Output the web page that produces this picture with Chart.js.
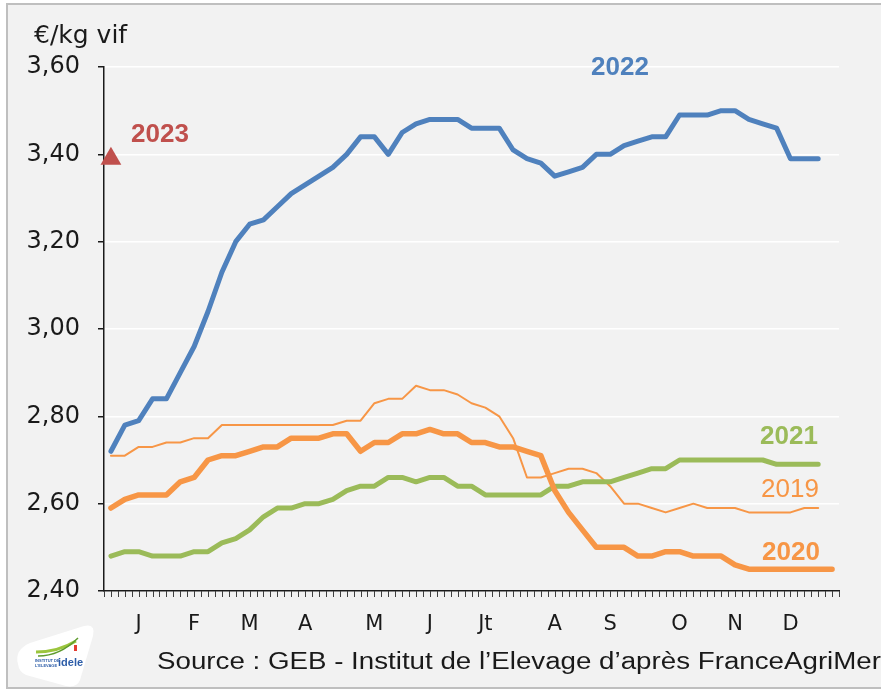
<!DOCTYPE html>
<html lang="fr">
<head>
<meta charset="utf-8">
<title>Prix €/kg vif</title>
<script src="https://cdn.jsdelivr.net/npm/chart.js@4.4.1/dist/chart.umd.min.js"></script>
<style>
  html, body { margin: 0; padding: 0; background: #fff; }
  canvas { display: block; }
</style>
</head>
<body>
<canvas id="chart" width="881" height="691"></canvas>
<script>
// === DONNÉES ===
const nbSemaines = 53;
const moisLabels = ['J', 'F', 'M', 'A', 'M', 'J', 'Jt', 'A', 'S', 'O', 'N', 'D'];
const moisSemaine = [2, 6, 10, 14, 19, 23, 27, 32, 36, 41, 45, 49];
const yTicks = [2.4, 2.6, 2.8, 3.0, 3.2, 3.4, 3.6];

const prix2019 = [2.71, 2.71, 2.73, 2.73, 2.74, 2.74, 2.75, 2.75, 2.78, 2.78,
  2.78, 2.78, 2.78, 2.78, 2.78, 2.78, 2.78, 2.79, 2.79, 2.83,
  2.84, 2.84, 2.87, 2.86, 2.86, 2.85, 2.83, 2.82, 2.80, 2.75,
  2.66, 2.66, 2.67, 2.68, 2.68, 2.67, 2.64, 2.60, 2.60, 2.59,
  2.58, 2.59, 2.60, 2.59, 2.59, 2.59, 2.58, 2.58, 2.58, 2.58,
  2.59, 2.59];
const prix2020 = [2.59, 2.61, 2.62, 2.62, 2.62, 2.65, 2.66, 2.70, 2.71, 2.71,
  2.72, 2.73, 2.73, 2.75, 2.75, 2.75, 2.76, 2.76, 2.72, 2.74,
  2.74, 2.76, 2.76, 2.77, 2.76, 2.76, 2.74, 2.74, 2.73, 2.73,
  2.72, 2.71, 2.63, 2.58, 2.54, 2.50, 2.50, 2.50, 2.48, 2.48,
  2.49, 2.49, 2.48, 2.48, 2.48, 2.46, 2.45, 2.45, 2.45, 2.45,
  2.45, 2.45, 2.45];
const prix2021 = [2.48, 2.49, 2.49, 2.48, 2.48, 2.48, 2.49, 2.49, 2.51, 2.52,
  2.54, 2.57, 2.59, 2.59, 2.60, 2.60, 2.61, 2.63, 2.64, 2.64,
  2.66, 2.66, 2.65, 2.66, 2.66, 2.64, 2.64, 2.62, 2.62, 2.62,
  2.62, 2.62, 2.64, 2.64, 2.65, 2.65, 2.65, 2.66, 2.67, 2.68,
  2.68, 2.70, 2.70, 2.70, 2.70, 2.70, 2.70, 2.70, 2.69, 2.69,
  2.69, 2.69];
const prix2022 = [2.72, 2.78, 2.79, 2.84, 2.84, 2.90, 2.96, 3.04, 3.13, 3.20,
  3.24, 3.25, 3.28, 3.31, 3.33, 3.35, 3.37, 3.40, 3.44, 3.44,
  3.40, 3.45, 3.47, 3.48, 3.48, 3.48, 3.46, 3.46, 3.46, 3.41,
  3.39, 3.38, 3.35, 3.36, 3.37, 3.40, 3.40, 3.42, 3.43, 3.44,
  3.44, 3.49, 3.49, 3.49, 3.50, 3.50, 3.48, 3.47, 3.46, 3.39,
  3.39, 3.39];
const prix2023 = [3.39];

// couleurs
const BLEU = '#4F81BD', VERT = '#9BBB59', ORANGE = '#F79646', ROUGE = '#C0504D';

// labels de l'axe X : une catégorie par semaine, lettre du mois à certaines semaines
const labels = Array(nbSemaines).fill('');
moisSemaine.forEach((s, i) => { labels[s] = moisLabels[i]; });

// === PLUGIN DÉCOR (fond, graduations, étiquettes, source) ===
const decor = {
  id: 'decor',
  beforeDraw(chart) {
    const ctx = chart.ctx;
    ctx.save();
    ctx.fillStyle = '#fff';
    ctx.fillRect(0, 0, chart.width, chart.height);
    ctx.fillStyle = '#F2F2F2';
    ctx.fillRect(7, 4, chart.width, chart.height - 7);
    ctx.strokeStyle = '#BFBFBF';
    ctx.lineWidth = 2;
    ctx.strokeRect(7, 4, chart.width + 20, chart.height - 7);
    ctx.restore();
  },
  afterDraw(chart) {
    const ctx = chart.ctx;
    const x = chart.scales.x;
    const area = chart.chartArea;
    ctx.save();

    // petites graduations de l'axe X (toutes les demi-semaines)
    ctx.strokeStyle = '#404040';
    ctx.lineWidth = 1;
    const pas = (area.right - area.left) / (nbSemaines * 2);
    ctx.beginPath();
    for (let k = 0; k <= nbSemaines * 2; k++) {
      const px = Math.round(area.left + k * pas) + 0.5;
      ctx.moveTo(px, area.bottom);
      ctx.lineTo(px, area.bottom + 6);
    }
    ctx.stroke();

    // unité
    ctx.fillStyle = '#1a1a1a';
    ctx.font = '25px "DejaVu Sans"';
    ctx.textBaseline = 'middle';
    ctx.textAlign = 'left';
    ctx.fillText('€/kg vif', 34, 36);

    // étiquettes des séries
    ctx.textAlign = 'center';
    ctx.font = 'bold 26px "Liberation Sans"';
    ctx.fillStyle = ROUGE; ctx.fillText('2023', 160, 135);
    ctx.fillStyle = BLEU; ctx.fillText('2022', 620, 68);
    ctx.fillStyle = VERT; ctx.fillText('2021', 789, 437);
    ctx.fillStyle = ORANGE; ctx.fillText('2020', 791, 553);
    ctx.font = '26px "Liberation Sans"';
    ctx.fillText('2019', 790, 490);

    // source (texte étiré pour couvrir la largeur)
    const source = 'Source : GEB - Institut de l\u2019Elevage d\u2019apr\u00e8s FranceAgriMer';
    ctx.font = '23px "Liberation Sans"';
    ctx.fillStyle = '#1a1a1a';
    ctx.textAlign = 'left';
    const w = ctx.measureText(source).width;
    ctx.save();
    ctx.translate(157, 663);
    ctx.scale(724 / w, 1);
    ctx.fillText(source, 0, 0);
    ctx.restore();

    // logo simplifié
    ctx.fillStyle = '#fff';
    ctx.beginPath();
    ctx.moveTo(18, 664);
    ctx.quadraticCurveTo(14, 650, 30, 643);
    ctx.lineTo(84, 626);
    ctx.quadraticCurveTo(96, 623, 93, 636);
    ctx.lineTo(80, 680);
    ctx.quadraticCurveTo(77, 688, 66, 686);
    ctx.lineTo(26, 675);
    ctx.quadraticCurveTo(19, 672, 18, 664);
    ctx.fill();
    ctx.strokeStyle = '#9BC53D';
    ctx.lineWidth = 3;
    ctx.beginPath();
    ctx.moveTo(36, 652);
    ctx.quadraticCurveTo(58, 652, 76, 641);
    ctx.stroke();
    ctx.strokeStyle = '#5E9B2E';
    ctx.lineWidth = 1.5;
    ctx.beginPath();
    ctx.moveTo(38, 656);
    ctx.quadraticCurveTo(60, 656, 78, 638);
    ctx.stroke();
    ctx.fillStyle = '#E53B30';
    ctx.fillRect(74, 645, 3, 6);
    ctx.fillStyle = '#2D5DA8';
    ctx.font = 'bold 11px "Liberation Sans"';
    ctx.textAlign = 'left';
    ctx.fillText('idele', 58, 663);
    ctx.font = 'bold 4px "Liberation Sans"';
    ctx.fillText('INSTITUT DE', 35, 661);
    ctx.fillText('L\u2019ELEVAGE', 35, 666);

    ctx.restore();
  }
};

// === GRAPHIQUE ===
const ctx = document.getElementById('chart').getContext('2d');
new Chart(ctx, {
  type: 'line',
  data: {
    labels: labels,
    datasets: [
      {
        label: '2023', data: prix2023, showLine: false,
        pointStyle: 'triangle', pointRadius: 12, pointHoverRadius: 12,
        pointBackgroundColor: ROUGE, pointBorderWidth: 0, borderColor: ROUGE
      },
      { label: '2022', data: prix2022, borderColor: BLEU, borderWidth: 5 },
      { label: '2020', data: prix2020, borderColor: ORANGE, borderWidth: 5.5 },
      { label: '2021', data: prix2021, borderColor: VERT, borderWidth: 5 },
      { label: '2019', data: prix2019, borderColor: ORANGE, borderWidth: 2 }
    ]
  },
  options: {
    responsive: false,
    animation: false,
    layout: { padding: { left: 0, top: 67, right: 42, bottom: 0 } },
    elements: {
      line: { tension: 0, borderJoinStyle: 'round', borderCapStyle: 'round', fill: false },
      point: { radius: 0, hoverRadius: 0 }
    },
    plugins: {
      legend: { display: false },
      tooltip: { enabled: false },
      title: { display: false }
    },
    scales: {
      x: {
        offset: true,
        afterFit: (s) => { s.height = 100; },
        grid: { display: false, drawTicks: false },
        border: { display: true, color: '#1a1a1a', width: 1.5 },
        ticks: {
          autoSkip: false, maxRotation: 0, minRotation: 0, padding: 21,
          color: '#1a1a1a', font: { family: 'DejaVu Sans', size: 21 }
        }
      },
      y: {
        min: 2.4, max: 3.6,
        afterFit: (s) => { s.width = 104; },
        afterBuildTicks: (s) => { s.ticks = yTicks.map(v => ({ value: v })); },
        grid: { color: '#ffffff', lineWidth: 1.5, tickColor: '#1a1a1a', tickLength: 6, drawTicks: true },
        border: { display: true, color: '#1a1a1a', width: 1.5 },
        ticks: {
          padding: 18, color: '#1a1a1a',
          font: { family: 'DejaVu Sans', size: 24 },
          callback: (v) => Number(v).toFixed(2).replace('.', ',')
        }
      }
    }
  },
  plugins: [decor]
});
</script>
</body>
</html>
